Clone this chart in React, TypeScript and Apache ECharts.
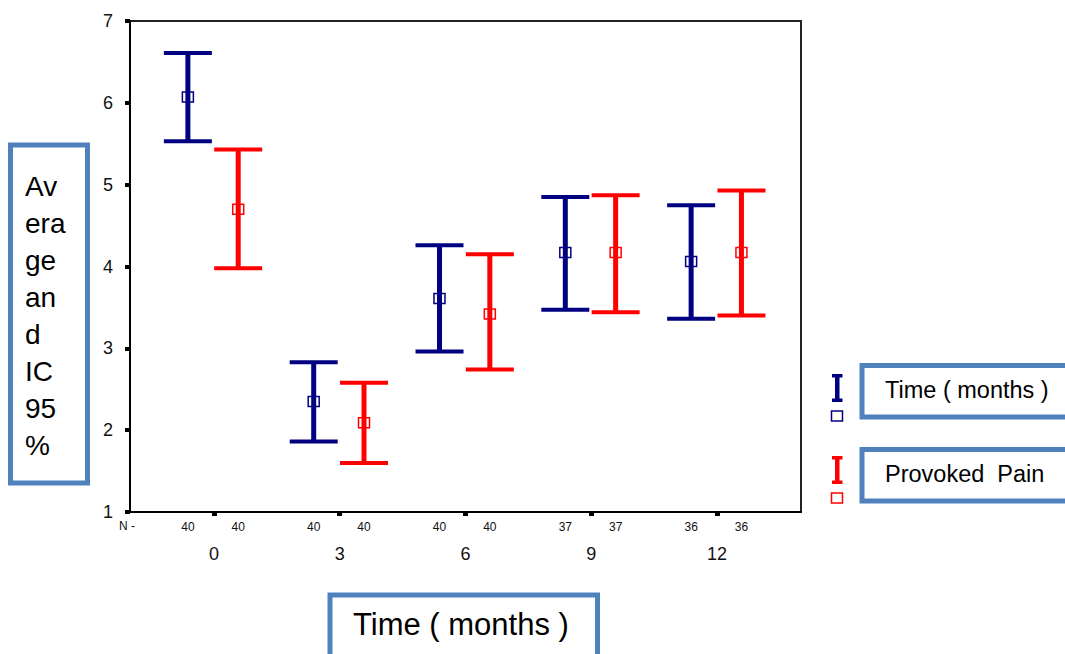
import React, { useEffect, useRef } from 'react';
import * as echarts from 'echarts';

const months = [0, 3, 6, 9, 12];
const nTime = [40, 40, 40, 37, 36];
const nPain = [40, 40, 40, 37, 36];
const timeMean = [6.07, 2.35, 3.61, 4.17, 4.06];
const timeLow = [5.53, 1.86, 2.96, 3.47, 3.36];
const timeHigh = [6.61, 2.83, 4.26, 4.85, 4.75];
const painMean = [4.7, 2.09, 3.42, 4.17, 4.17];
const painLow = [3.98, 1.6, 2.74, 3.44, 3.4];
const painHigh = [5.43, 2.58, 4.15, 4.87, 4.93];
const yTitleLines = ['Av', 'era', 'ge', 'an', 'd', 'IC', '95', '%'];
const legendNames = ['Time ( months )', 'Provoked  Pain'];
const xTitle = 'Time ( months )';

const BLUE = '#000080';
const RED = '#ff0000';
const BOX = '#4f81bd';
const OFF_T = -0.62;
const OFF_P = 0.58;
const FONT = '"Liberation Sans", Arial, sans-serif';

const renderErr = (color: string) => (params: any, api: any) => {
  const x = api.value(0);
  const lo = api.coord([x, api.value(1)]);
  const hi = api.coord([x, api.value(2)]);
  const m = api.coord([x, api.value(3)]);
  const hw = 24;
  return {
    type: 'group',
    children: [
      { type: 'line', shape: { x1: lo[0], y1: lo[1], x2: hi[0], y2: hi[1] }, style: { stroke: color, lineWidth: 5 } },
      { type: 'line', shape: { x1: hi[0] - hw, y1: hi[1], x2: hi[0] + hw, y2: hi[1] }, style: { stroke: color, lineWidth: 4 } },
      { type: 'line', shape: { x1: lo[0] - hw, y1: lo[1], x2: lo[0] + hw, y2: lo[1] }, style: { stroke: color, lineWidth: 4 } },
      { type: 'rect', shape: { x: m[0] - 5.5, y: m[1] - 5, width: 11, height: 10 }, style: { fill: 'none', stroke: color, lineWidth: 1.5 } },
    ],
  };
};

const legendIcon = (x: number, y: number, color: string) => [
  { type: 'rect', shape: { x: x - 2, y: y, width: 4.5, height: 28 }, style: { fill: color } },
  { type: 'rect', shape: { x: x - 5, y: y, width: 10.5, height: 3.5 }, style: { fill: color } },
  { type: 'rect', shape: { x: x - 5, y: y + 24.5, width: 10.5, height: 3.5 }, style: { fill: color } },
  { type: 'rect', shape: { x: x - 5.5, y: y + 37, width: 11, height: 10 }, style: { fill: 'none', stroke: color, lineWidth: 1.5 } },
];

export default function App() {
  const ref = useRef<HTMLDivElement>(null);
  useEffect(() => {
    if (!ref.current) return;
    const chart = echarts.init(ref.current, undefined, { renderer: 'svg' });
    const nPos: number[] = [];
    const nMap: Record<string, string> = {};
    months.forEach((m, i) => {
      const a = m + OFF_T;
      const b = m + OFF_P;
      nPos.push(a, b);
      nMap[a.toFixed(2)] = String(nTime[i]);
      nMap[b.toFixed(2)] = String(nPain[i]);
    });
    const timeData = months.map((m, i) => [m + OFF_T, timeLow[i], timeHigh[i], timeMean[i]]);
    const painData = months.map((m, i) => [m + OFF_P, painLow[i], painHigh[i], painMean[i]]);

    chart.setOption({
      animation: false,
      backgroundColor: '#fff',
      grid: { left: 130, right: 264, top: 21, bottom: 142, show: true, borderColor: '#222', borderWidth: 2 },
      xAxis: [
        {
          type: 'value', min: -2, max: 14, position: 'bottom',
          axisLine: { show: true, onZero: false, lineStyle: { color: '#000', width: 2 } },
          axisTick: { show: true, customValues: months, length: 4, lineStyle: { color: '#000', width: 5 } },
          axisLabel: { customValues: months, fontSize: 18, margin: 33, color: '#111', fontFamily: FONT },
          splitLine: { show: false },
        },
        {
          type: 'value', min: -2, max: 14, position: 'bottom',
          axisLine: { show: false, onZero: false }, axisTick: { show: false },
          axisLabel: {
            customValues: nPos, fontSize: 12, margin: 9, color: '#111', fontFamily: FONT,
            formatter: (v: number) => nMap[v.toFixed(2)] ?? '',
          },
          splitLine: { show: false },
        },
      ],
      yAxis: {
        type: 'value', min: 1, max: 7, interval: 1,
        axisLine: { show: true, onZero: false, lineStyle: { color: '#000', width: 2 } },
        axisTick: { show: true, length: 5, lineStyle: { color: '#000', width: 4 } },
        axisLabel: { fontSize: 18, margin: 17, color: '#111', fontFamily: FONT },
        splitLine: { show: false },
      },
      series: [
        { type: 'custom', name: legendNames[0], xAxisIndex: 0, renderItem: renderErr(BLUE), data: timeData, encode: { x: 0, y: [1, 2, 3] }, clip: false },
        { type: 'custom', name: legendNames[1], xAxisIndex: 0, renderItem: renderErr(RED), data: painData, encode: { x: 0, y: [1, 2, 3] }, clip: false },
      ],
      graphic: [
        { type: 'text', x: 119, y: 520, style: { text: 'N -', font: `12px ${FONT}`, fill: '#111' } },
        { type: 'rect', shape: { x: 10.5, y: 145, width: 77, height: 338 }, style: { fill: 'none', stroke: BOX, lineWidth: 5 } },
        { type: 'text', x: 25, y: 168, style: { text: yTitleLines.join('\n'), font: `28px ${FONT}`, lineHeight: 37, fill: '#000' } },
        { type: 'rect', shape: { x: 330, y: 595, width: 267.5, height: 80 }, style: { fill: 'none', stroke: BOX, lineWidth: 5 } },
        { type: 'text', x: 353, y: 609, style: { text: xTitle, font: `31px ${FONT}`, fill: '#000' } },
        { type: 'rect', shape: { x: 862, y: 365.5, width: 220, height: 51.5 }, style: { fill: 'none', stroke: BOX, lineWidth: 5 } },
        { type: 'text', x: 885, y: 378, style: { text: legendNames[0], font: `23.5px ${FONT}`, fill: '#000' } },
        { type: 'rect', shape: { x: 862, y: 449.5, width: 220, height: 51.5 }, style: { fill: 'none', stroke: BOX, lineWidth: 5 } },
        { type: 'text', x: 885, y: 462, style: { text: legendNames[1], font: `23.5px ${FONT}`, fill: '#000' } },
        ...legendIcon(837, 374, BLUE),
        ...legendIcon(837, 456, RED),
      ],
    });
    return () => chart.dispose();
  }, []);
  return <div ref={ref} style={{ position: 'fixed', left: 0, top: 0, width: 1065, height: 654 }} />;
}
